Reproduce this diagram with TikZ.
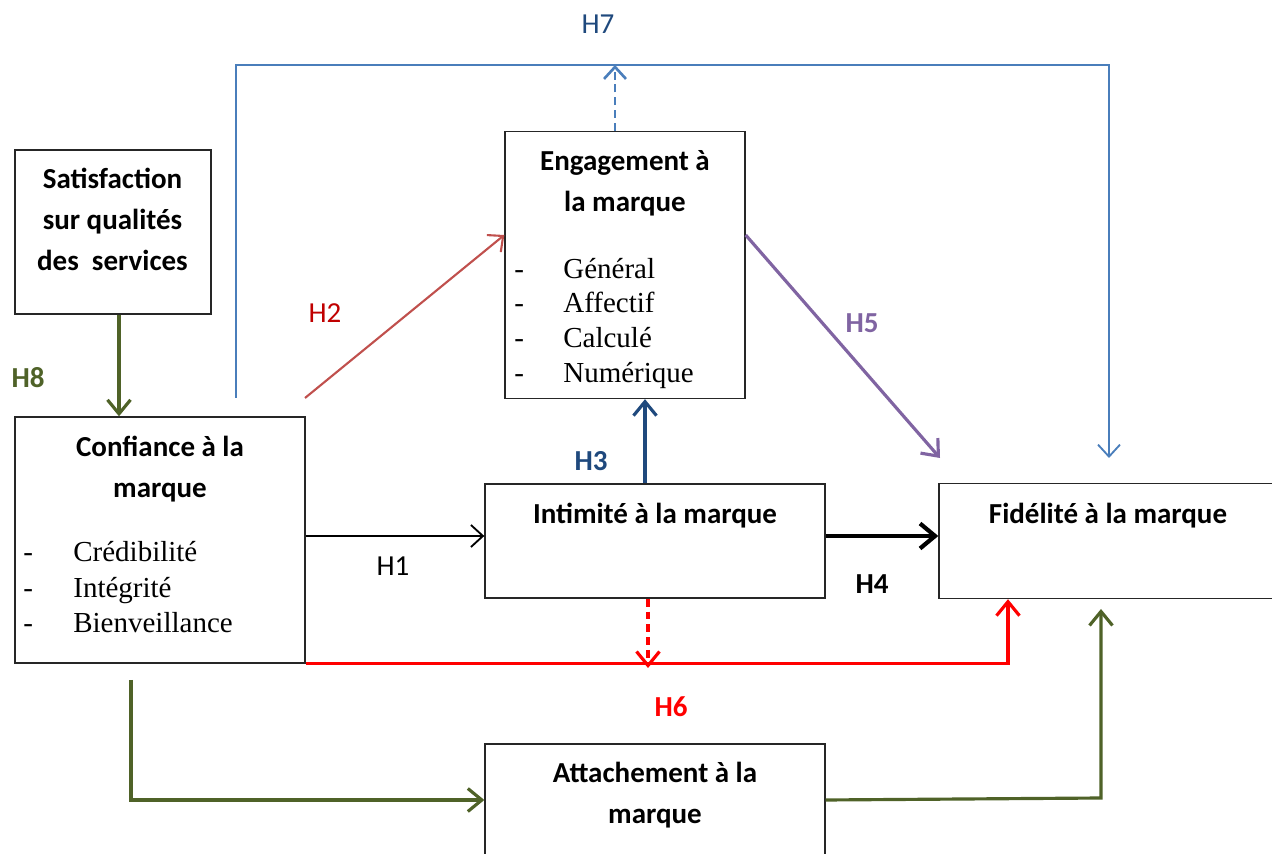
\documentclass[tikz,border=0pt]{standalone}
\usepackage{fontspec}
\setmainfont{Liberation Serif}
\newfontfamily\calfont{Carlito}
\usetikzlibrary{arrows.meta}
\definecolor{olive}{HTML}{4F6228}
\definecolor{lblue}{HTML}{4A7EBB}
\definecolor{dblue}{HTML}{1F497D}
\definecolor{rline}{HTML}{C0504D}
\definecolor{rtext}{HTML}{C00000}
\definecolor{purp}{HTML}{8064A2}
\definecolor{pure}{HTML}{FF0000}
\tikzset{
  box/.style={draw=black!85, line width=0.8pt, inner sep=0pt},
  ttl/.style={font=\calfont\bfseries\fontsize{16.5}{20}\selectfont, anchor=base, inner sep=0pt},
  itm/.style={font=\fontsize{16.5}{20}\selectfont, anchor=base west, inner sep=0pt},
  lbl/.style={font=\calfont\fontsize{16.5}{20}\selectfont, inner sep=0pt},
  thinarr/.style={line width=1.05pt, -{Straight Barb[length=2.4mm,width=4.4mm]}},
  thickarr/.style={line width=1.8pt, -{Straight Barb[length=2.8mm,width=4.6mm]}},
  dsh/.style={dash pattern=on 4.5pt off 2.8pt}
}
\begin{document}
\begin{tikzpicture}[x=0.02cm,y=-0.02cm]
\clip (0,0) rectangle (1272,854);
\useasboundingbox (0,0) rectangle (1272,854);
% boxes
\node[box, minimum width=3.92cm, minimum height=3.28cm] (sat) at (113,232) {};
\node[box, minimum width=5.8cm, minimum height=4.92cm] (conf) at (160,540) {};
\node[box, minimum width=4.8cm, minimum height=5.34cm] (eng) at (625,265) {};
\node[box, minimum width=6.8cm, minimum height=2.28cm] (int) at (655,541) {};
\node[box, minimum width=6.76cm, minimum height=2.3cm] (fid) at (1108,541) {};
\node[box, minimum width=6.8cm, minimum height=2.28cm] (att) at (655,801) {};
% titles
\node[ttl] (sat1) at (112.5,189) {Satisfaction};
\node[ttl] (sat2) at (112.5,230) {sur qualités};
\node[ttl] (sat3) at (112.5,271) {des\ \ services};
\node[ttl] (conf1) at (160,457) {Confiance à la};
\node[ttl] (conf2) at (160,498) {marque};
\node[ttl] (eng1) at (625,171) {Engagement à};
\node[ttl] (eng2) at (625,212) {la marque};
\node[ttl] (int1) at (655,524) {Intimité à la marque};
\node[ttl] (fid1) at (1108,524) {Fidélité à la marque};
\node[ttl] (att1) at (655,783) {Attachement à la};
\node[ttl] (att2) at (655,824) {marque};
% lists
\node[itm] (cd1) at (23,562) {-}; \node[itm] (ct1) at (73,562) {Crédibilité};
\node[itm] (cd2) at (23,598) {-}; \node[itm] (ct2) at (73,598) {Intégrité};
\node[itm] (cd3) at (23,633) {-}; \node[itm] (ct3) at (73,633) {Bienveillance};
\node[itm] (ed1) at (514,279) {-}; \node[itm] (et1) at (563,279) {Général};
\node[itm] (ed2) at (514,313) {-}; \node[itm] (et2) at (563,313) {Affectif};
\node[itm] (ed3) at (514,348) {-}; \node[itm] (et3) at (563,348) {Calculé};
\node[itm] (ed4) at (514,383) {-}; \node[itm] (et4) at (563,383) {Numérique};
% helper coordinates
\coordinate (c119) at (119,0);
\coordinate (top) at (0,65);
\coordinate (h7a) at (236,398);
\coordinate (h7b) at (1109,458);
\coordinate (h7m) at (615,65);
\coordinate (h2a) at (305,398);
\coordinate (y235) at (0,235);
\coordinate (h5b) at (940,458);
\coordinate (c645) at (645,0);
\coordinate (y536) at (0,536);
\coordinate (c1008) at (1008,0);
\coordinate (h6m) at (648,668);
\coordinate (g1) at (131,680);
\coordinate (y800) at (0,800);
\coordinate (g2) at (1101,798);
\coordinate (g3) at (1101,609);
% connectors
\draw[thickarr, olive] (sat.south -| c119) -- (conf.north -| c119);
\draw[thinarr, lblue] (h7a) |- (h7b |- top) -- (h7b);
\draw[thinarr, lblue, dsh, line width=1.5pt] (eng.north -| h7m) -- (h7m);
\draw[thinarr, rline, line width=1.2pt] (h2a) -- (eng.west |- y235);
\draw[thickarr, purp] (eng.east |- y235) -- (h5b);
\draw[thickarr, dblue] (int.north -| c645) -- (eng.south -| c645);
\draw[thinarr, black] (conf.east |- y536) -- (int.west |- y536);
\draw[line width=2.4pt, black, -{Straight Barb[length=3mm,width=5mm]}] (int.east |- y536) -- (fid.west |- y536);
\draw[thickarr, pure] (conf.south east) -| (fid.south -| c1008);
\draw[thickarr, pure, dsh] (int.south -| h6m) -- (h6m);
\draw[thickarr, olive] (g1) |- (att.west |- y800);
\draw[thickarr, olive] (att.east |- y800) -- (g2) -- (g3);
% labels
\node[lbl, text=dblue] (lh7) at (598,24) {H7};
\node[lbl, text=rtext] (lh2) at (325,313) {H2};
\node[lbl, text=purp, font=\calfont\bfseries\fontsize{16.5}{20}\selectfont] (lh5) at (862,323) {H5};
\node[lbl, text=olive, font=\calfont\bfseries\fontsize{16.5}{20}\selectfont] (lh8) at (28,378) {H8};
\node[lbl, text=dblue, font=\calfont\bfseries\fontsize{16.5}{20}\selectfont] (lh3) at (591,461) {H3};
\node[lbl, text=black] (lh1) at (393,566) {H1};
\node[lbl, text=black, font=\calfont\bfseries\fontsize{16.5}{20}\selectfont] (lh4) at (872,584) {H4};
\node[lbl, text=pure, font=\calfont\bfseries\fontsize{16.5}{20}\selectfont] (lh6) at (671,707) {H6};
\end{tikzpicture}
\end{document}
